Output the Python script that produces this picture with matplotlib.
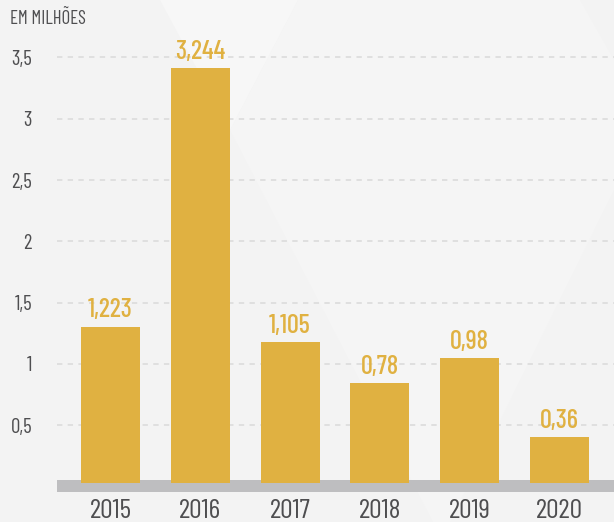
import matplotlib
matplotlib.use("Agg")
import matplotlib.pyplot as plt
from matplotlib.patches import Polygon, Rectangle

YEARS = ["2015", "2016", "2017", "2018", "2019", "2020"]
VALUES = [1.223, 3.244, 1.105, 0.78, 0.98, 0.36]
TICKS = [0.5, 1, 1.5, 2, 2.5, 3, 3.5]
TICK_LABELS = ["0,5", "1", "1,5", "2", "2,5", "3", "3,5"]
UNIT_LABEL = "EM MILHÕES"

GOLD = "#E0B141"
BAND = "#BEBEC0"
BG = "#F3F3F3"
TEXT = "#4E4E50"
FONT = ["Barlow Condensed", "DejaVu Sans"]

W, H = 614, 522
plt.rcParams["font.family"] = FONT


def px(x, y):
    return (x / W, 1 - y / H)


fig = plt.figure(figsize=(W / 100, H / 100), dpi=100)
fig.patch.set_facecolor(BG)

# faint decorative background shapes
fig.add_artist(Polygon([px(230, 130), px(298, 0), px(580, 0), px(614, 60),
                        px(614, 190), px(450, 522), px(433, 522)],
                       closed=True, transform=fig.transFigure,
                       facecolor="#F5F5F5", edgecolor="none", zorder=0))
fig.add_artist(Polygon([px(160, 0), px(298, 0), px(230, 130)],
                       closed=True, transform=fig.transFigure,
                       facecolor="#F7F7F7", edgecolor="none", zorder=0))

rect = [57 / W, (H - 493) / H, (W - 57) / W, 483 / H]
x = list(range(len(YEARS)))
xlim = (-0.596, 5.607)

# axis carrying the dashed grid and y tick labels
ax_grid = fig.add_axes(rect)
ax_grid.patch.set_visible(False)
ax_grid.set_xlim(*xlim)
ax_grid.set_ylim(-0.053, 3.887)
ax_grid.set_yticks(TICKS)
ax_grid.set_yticklabels(TICK_LABELS)
ax_grid.set_xticks([])
ax_grid.tick_params(axis="y", length=0, pad=18, labelsize=15, labelcolor=TEXT)
ax_grid.grid(axis="y", color="#D9D9D9", linestyle=(0, (3.5, 3.5)), linewidth=1.1)
for s in ax_grid.spines.values():
    s.set_visible(False)

# axis carrying the bars
ax = fig.add_axes(rect)
ax.patch.set_visible(False)
ax.add_patch(Rectangle((0, 0.002), 1, 0.025, transform=ax.transAxes,
                       facecolor=BAND, edgecolor="none", zorder=1))
bars = ax.bar(x, VALUES, width=0.657, color=GOLD, zorder=2)
for b, v in zip(bars, VALUES):
    ax.annotate(str(v).replace(".", ","), (b.get_x() + b.get_width() / 2, v),
                xytext=(0, 3), textcoords="offset points",
                ha="center", va="bottom", fontsize=19, color=GOLD,
                fontweight="medium")
ax.set_xlim(*xlim)
ax.set_ylim(-0.078, 3.698)
ax.set_xticks(x)
ax.set_xticklabels(YEARS)
ax.set_yticks([])
ax.tick_params(axis="x", length=0, pad=4, labelsize=20, labelcolor=TEXT)
for s in ax.spines.values():
    s.set_visible(False)

fig.text(10 / W, 1 - 19 / H, UNIT_LABEL, ha="left", va="center",
         fontsize=13.5, color=TEXT)

fig.savefig("out.png", dpi=100, facecolor=BG)
